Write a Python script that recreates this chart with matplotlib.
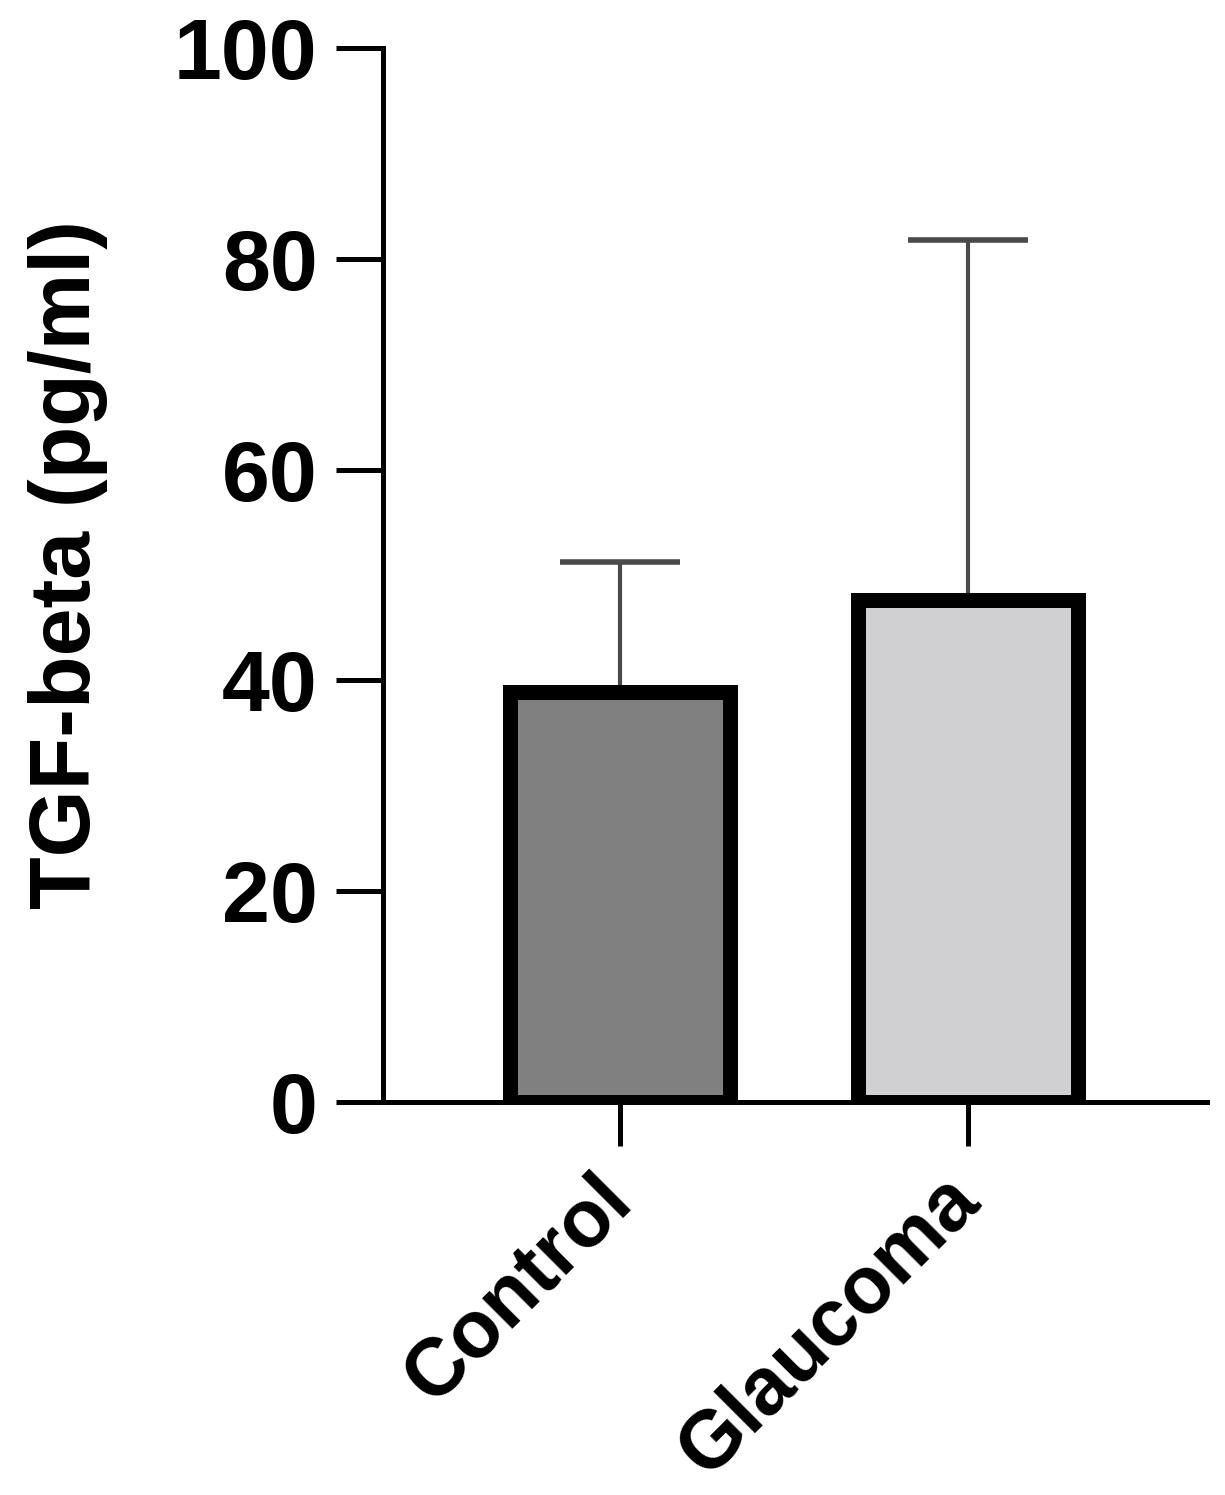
import matplotlib
matplotlib.use("Agg")
import matplotlib.pyplot as plt

# data
groups = ["Control", "Glaucoma"]
means = [38.9, 47.6]
err_up = [12.3, 34.2]
y_ticks = [0, 20, 40, 60, 80, 100]

bar_colors = ["#808080", "#d0d0d2"]

plt.rcParams["font.family"] = ["Liberation Sans", "DejaVu Sans"]
plt.rcParams["font.weight"] = "bold"

fig = plt.figure(figsize=(12.25, 14.95), dpi=100)
ax = fig.add_axes([383 / 1225, 1 - 1102 / 1495, (1207 - 383) / 1225, (1102 - 48) / 1495])

x = list(range(len(groups)))

ax.errorbar(x, means, yerr=[[0] * len(means), err_up], fmt="none",
            ecolor="#4a4a4a", elinewidth=3, capsize=43, capthick=4, zorder=1)
ax.bar(x, means, width=0.63, color=bar_colors, edgecolor="black",
       linewidth=10.8, zorder=2)

ax.set_xlim(-0.681, 1.687)
ax.set_ylim(0, 100)
ax.set_yticks(y_ticks)
ax.set_xticks(x)
ax.set_xticklabels(groups, rotation=45, ha="right", va="center",
                   rotation_mode="anchor")

for s in ["top", "right"]:
    ax.spines[s].set_visible(False)
for s in ["left", "bottom"]:
    ax.spines[s].set_linewidth(3.6)
    ax.spines[s].set_zorder(3)

ax.tick_params(axis="y", length=34, width=3.6, pad=13, labelsize=62)
ax.tick_params(axis="x", length=32, width=3.6, pad=30, labelsize=58)
for lab in ax.get_yticklabels() + ax.get_xticklabels():
    lab.set_fontweight("bold")

fig.text(90 / 1225, 1 - 565 / 1495, "TGF-beta (pg/ml)", rotation=90,
         rotation_mode="anchor", ha="center", va="baseline",
         fontsize=62, fontweight="bold")

fig.savefig("out.png", dpi=100)
